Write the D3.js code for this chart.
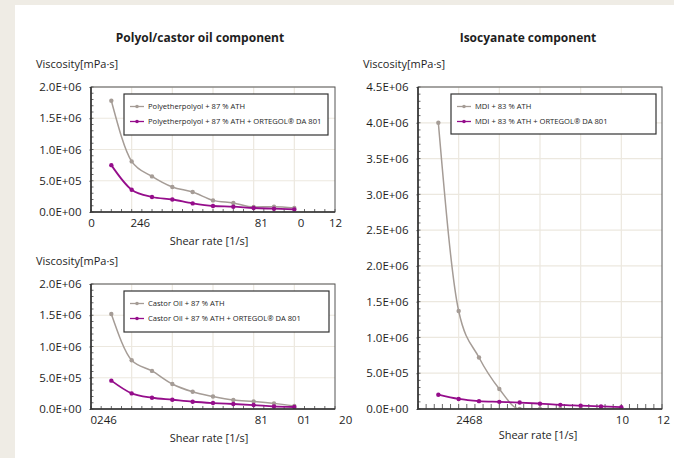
<!DOCTYPE html>
<html>
<head>
<meta charset="utf-8">
<script src="https://cdn.jsdelivr.net/npm/d3@7"></script>
<style>
  html, body { margin: 0; padding: 0; background: #efece5; }
  svg { display: block; }
  text { font-family: "Open Sans", "Noto Sans", sans-serif; fill: #1e1e1e; }
</style>
</head>
<body>
<script>
// shear rate points (x positions 1..10)
var shearPts = [1, 2, 3, 4, 5, 6, 7, 8, 9, 10];

var polyolAth    = [1.78e6, 0.81e6, 0.57e6, 0.40e6, 0.32e6, 0.186e6, 0.144e6, 0.080e6, 0.085e6, 0.064e6];
var polyolOrtegol= [0.75e6, 0.357e6, 0.24e6, 0.20e6, 0.138e6, 0.096e6, 0.085e6, 0.064e6, 0.053e6, 0.042e6];
var castorAth    = [1.52e6, 0.78e6, 0.61e6, 0.40e6, 0.275e6, 0.20e6, 0.143e6, 0.12e6, 0.09e6, 0.048e6];
var castorOrtegol= [0.454e6, 0.25e6, 0.18e6, 0.148e6, 0.116e6, 0.095e6, 0.080e6, 0.063e6, 0.042e6, 0.032e6];
var mdiAth       = [4.0e6, 1.37e6, 0.72e6, 0.28e6, 0, 0, 0, 0, 0, 0];
var mdiOrtegol   = [0.20e6, 0.14e6, 0.11e6, 0.10e6, 0.09e6, 0.075e6, 0.058e6, 0.047e6, 0.036e6, 0.025e6];

var yTicksSmall = [0, 5e5, 1e6, 1.5e6, 2e6];
var yTicksBig   = [0, 5e5, 1e6, 1.5e6, 2e6, 2.5e6, 3e6, 3.5e6, 4e6, 4.5e6];

// the x tick labels as printed (overlapping glyphs in the source)
var xTicksA = [0, 2.4, 8.35, 10.3, 12];
var xLabelsA = ["0", "246", "81", "0", "12"];
var xTicksB = [0.6, 8.35, 10.45, 12.5];
var xLabelsB = ["0246", "81", "01", "20"];
var xTicksC = [2.5, 10.03, 12.05];
var xLabelsC = ["2468", "10", "12"];

var grey = "#a59c96", purple = "#950d8b";

var width = 674, height = 458;
var svg = d3.select("body").append("svg").attr("width", width).attr("height", height);
var defs = svg.append("defs");

svg.append("rect").attr("x", 15).attr("y", 5).attr("width", width - 15).attr("height", height - 5).attr("fill", "#fff");

writeText("Polyol/castor oil component", 200, 42, "middle", 12, "bold");
writeText("Isocyanate component", 528, 42, "middle", 12, "bold");

drawChart({
  id: "a", left: 91, right: 335, top: 87, bottom: 212, yMax: 2e6, yTicks: yTicksSmall,
  xTicks: xTicksA, xLabels: xLabelsA, xMinor: 0.5, xMinorLen: 3,
  series: [{name: "Polyetherpolyol + 87 % ATH", values: polyolAth, color: grey},
           {name: "Polyetherpolyol + 87 % ATH + ORTEGOL\u00AE DA 801", values: polyolOrtegol, color: purple}],
  legend: {x: 124, y: 94, w: 204, h: 41},
  ylab: {x: 36, y: 68}, xlab: {x: 209, y: 245}
});

drawChart({
  id: "b", left: 91, right: 335, top: 284, bottom: 409, yMax: 2e6, yTicks: yTicksSmall,
  xTicks: xTicksB, xLabels: xLabelsB, xMinor: 0.5, xMinorLen: 3,
  series: [{name: "Castor Oil + 87 % ATH", values: castorAth, color: grey},
           {name: "Castor Oil + 87 % ATH + ORTEGOL\u00AE DA 801", values: castorOrtegol, color: purple}],
  legend: {x: 124, y: 291, w: 205, h: 41},
  ylab: {x: 36, y: 265}, xlab: {x: 209, y: 442}
});

drawChart({
  id: "c", left: 418, right: 662, top: 87, bottom: 409, yMax: 4.5e6, yTicks: yTicksBig,
  xTicks: xTicksC, xLabels: xLabelsC, xMinor: 0.4, xMinorLen: 5,
  series: [{name: "MDI + 83 % ATH", values: mdiAth, color: grey},
           {name: "MDI + 83 % ATH + ORTEGOL\u00AE DA 801", values: mdiOrtegol, color: purple}],
  legend: {x: 451, y: 94, w: 205, h: 40},
  ylab: {x: 363, y: 68}, xlab: {x: 538, y: 439}
});

function drawChart(c) {
  var x = d3.scaleLinear().domain([0, 12]).range([c.left, c.right]);
  var y = d3.scaleLinear().domain([0, c.yMax]).range([c.bottom, c.top]);
  var g = svg.append("g");

  defs.append("clipPath").attr("id", "clip-" + c.id).append("rect")
    .attr("x", c.left).attr("y", c.top - 5).attr("width", c.right - c.left).attr("height", c.bottom - c.top + 5);

  // grid
  g.selectAll(".hg").data(c.yTicks.slice(1)).enter().append("line")
    .attr("x1", c.left).attr("x2", c.right)
    .attr("y1", function(d) { return y(d); }).attr("y2", function(d) { return y(d); })
    .attr("stroke", "#ece8df").attr("stroke-width", 1.2);
  g.selectAll(".vg").data([2, 4, 6, 8, 10]).enter().append("line")
    .attr("y1", c.top).attr("y2", c.bottom)
    .attr("x1", function(d) { return x(d); }).attr("x2", function(d) { return x(d); })
    .attr("stroke", "#ece8df").attr("stroke-width", 1.2);

  // minor ticks (inside)
  var yMinor = d3.range(0, c.yMax + 1, 1e5);
  g.selectAll(".ym").data(yMinor).enter().append("line")
    .attr("x1", c.left).attr("x2", c.left + 2.5)
    .attr("y1", function(d) { return y(d); }).attr("y2", function(d) { return y(d); })
    .attr("stroke", "#444").attr("stroke-width", 0.8);
  var xMinor = d3.range(0, 12.001, c.xMinor);
  g.selectAll(".xm").data(xMinor).enter().append("line")
    .attr("x1", function(d) { return x(d); }).attr("x2", function(d) { return x(d); })
    .attr("y1", c.bottom).attr("y2", c.bottom - c.xMinorLen)
    .attr("stroke", "#444").attr("stroke-width", 0.8);

  // y axis labels via d3 axis
  var yAxis = g.append("g").attr("transform", "translate(" + c.left + ",0)")
    .call(d3.axisLeft(y).tickValues(c.yTicks).tickSize(1.5).tickPadding(8)
      .tickFormat(function(d) { return d3.format(".1e")(d).replace("e+", "E+0").toUpperCase(); }));
  yAxis.select(".domain").remove();
  yAxis.selectAll("line").attr("stroke", "#444");
  yAxis.selectAll("text").attr("font-size", 11.5).attr("fill", "#1e1e1e")
    .attr("font-family", "'Open Sans', sans-serif");

  var xAxis = g.append("g").attr("transform", "translate(0," + c.bottom + ")")
    .call(d3.axisBottom(x).tickValues(c.xTicks).tickSize(0).tickPadding(7)
      .tickFormat(function(d, i) { return c.xLabels[i]; }));
  xAxis.select(".domain").remove();
  xAxis.selectAll("text").attr("font-size", 11.5).attr("fill", "#1e1e1e")
    .attr("font-family", "'Open Sans', sans-serif");

  // series
  var plot = g.append("g").attr("clip-path", "url(#clip-" + c.id + ")");
  var line = d3.line()
    .x(function(d, i) { return x(shearPts[i]); })
    .y(function(d) { return y(d); })
    .curve(d3.curveMonotoneX);
  c.series.forEach(function(s) {
    plot.append("path").datum(s.values).attr("d", line)
      .attr("fill", "none").attr("stroke", s.color).attr("stroke-width", s.color === purple ? 1.8 : 1.5);
    plot.selectAll(null).data(s.values).enter().append("circle")
      .attr("cx", function(d, i) { return x(shearPts[i]); })
      .attr("cy", function(d) { return y(d); })
      .attr("r", 2.2).attr("fill", s.color);
  });

  // frame
  g.append("rect").attr("x", c.left).attr("y", c.top)
    .attr("width", c.right - c.left).attr("height", c.bottom - c.top)
    .attr("fill", "none").attr("stroke", "#555").attr("stroke-width", 1);
  g.append("path").attr("d", "M" + c.left + "," + c.top + "V" + c.bottom + "H" + c.right)
    .attr("fill", "none").attr("stroke", "#333").attr("stroke-width", 1.6);

  // legend
  var L = c.legend;
  g.append("rect").attr("x", L.x).attr("y", L.y).attr("width", L.w).attr("height", L.h)
    .attr("fill", "#fff").attr("stroke", "#333").attr("stroke-width", 1.2);
  c.series.forEach(function(s, i) {
    var ly = L.y + 12.5 + i * 15;
    g.append("line").attr("x1", L.x + 6).attr("x2", L.x + 20).attr("y1", ly).attr("y2", ly)
      .attr("stroke", s.color).attr("stroke-width", 1.3);
    g.append("circle").attr("cx", L.x + 13).attr("cy", ly).attr("r", 1.8).attr("fill", s.color);
    g.append("text").attr("x", L.x + 24).attr("y", ly + 2.5).attr("font-size", 7.6)
      .attr("fill", "#333").text(s.name);
  });

  writeText("Viscosity[mPa\u00B7s]", c.ylab.x, c.ylab.y, "start", 11, "normal");
  writeText("Shear rate [1/s]", c.xlab.x, c.xlab.y, "middle", 11, "normal");
}

function writeText(text, x, y, anchor, size, weight) {
  svg.append("text")
    .attr("x", x).attr("y", y)
    .attr("text-anchor", anchor)
    .attr("font-size", size)
    .attr("font-weight", weight)
    .text(text);
}
</script>
</body>
</html>
